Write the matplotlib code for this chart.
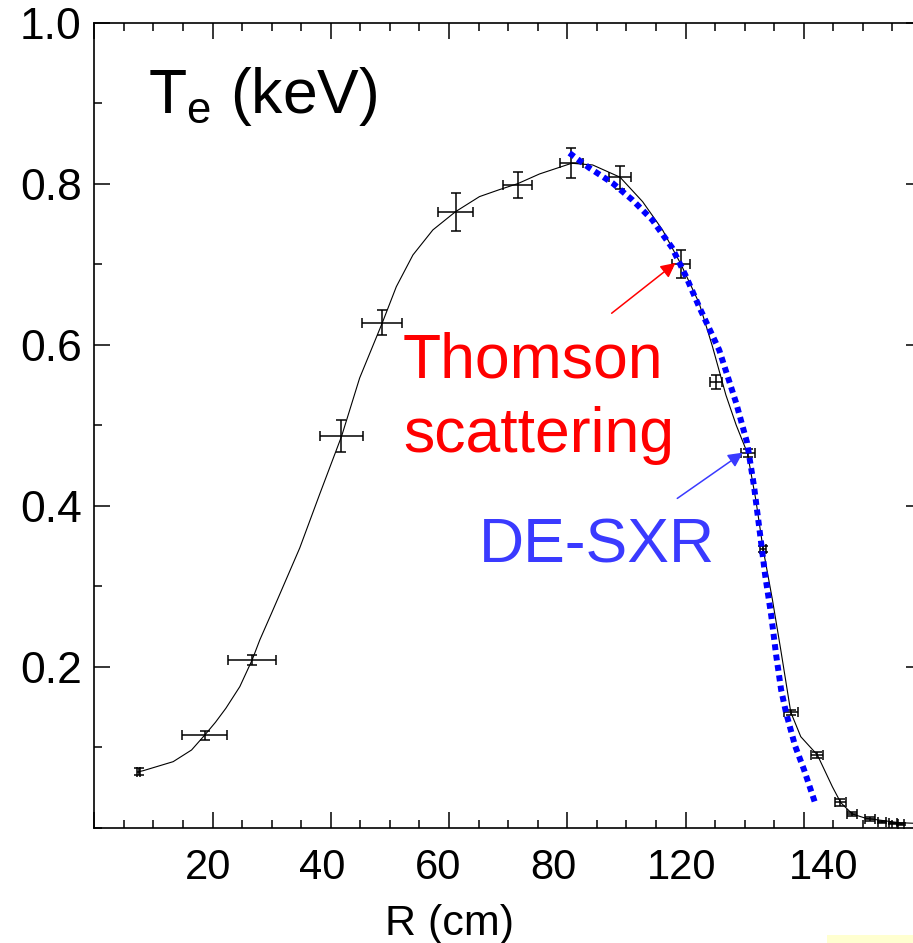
import matplotlib
matplotlib.use("Agg")
import matplotlib.pyplot as plt
from matplotlib.patches import Rectangle
from matplotlib.ticker import MultipleLocator

plt.rcParams['font.family'] = ['Liberation Sans', 'DejaVu Sans']
plt.rcParams['mathtext.fontset'] = 'custom'
plt.rcParams['mathtext.rm'] = 'Liberation Sans'

# Thomson scattering points (axis units as drawn)
ts_r = [7.55, 18.7, 26.7, 41.8, 48.7, 61.1, 71.6, 80.7, 88.9, 99.2, 105.2,
        110.5, 113.1, 117.8, 122.3, 126.2, 128.2, 131.2, 133.2, 135.1, 136.4]
ts_te = [0.0696, 0.1145, 0.2083, 0.4866, 0.6273, 0.765, 0.7983, 0.8253, 0.8079,
         0.6999, 0.5536, 0.4651, 0.3459, 0.1433, 0.0903, 0.0313, 0.0170, 0.0108,
         0.0071, 0.0052, 0.0045]
ts_xerr = [0.25, 3.8, 4.05, 3.7, 3.4, 2.9, 2.4, 1.95, 1.86, 1.5, 1.0,
           1.2, 0.5, 1.2, 1.0, 1.0, 0.85, 0.85, 0.7, 0.7, 0.5]
ts_yerr = [0.004, 0.005, 0.006, 0.02, 0.0155, 0.0236, 0.016, 0.0186, 0.0143,
           0.0174, 0.0087, 0.005, 0.004, 0.003, 0.004, 0.004, 0.0025, 0.002,
           0.0015, 0.0012, 0.0012]

# fitted profile through the Thomson points
fit_r = [7.55, 8.28, 10.54, 13.34, 16.45, 18.70, 20.5, 22.25, 24.61, 26.69, 27.99,
         29.97, 31.37, 34.75, 38.13, 41.84, 44.88, 48.72, 51.08, 53.89, 57.26,
         61.10, 65.15, 68.5, 71.62, 75.29, 80.74, 84.29, 88.92, 92.74, 96.11, 99.22,
         102.31, 104.56, 106.82, 108.56, 110.47, 111.89, 113.13, 114.70, 116.11,
         117.80, 119.49, 122.30, 124.83, 126.25, 128.21, 130.47, 136.10, 138.5]
fit_te = [0.0696, 0.0708, 0.0758, 0.0820, 0.0965, 0.1152, 0.1310, 0.1483, 0.1752,
          0.2083, 0.2332, 0.2663, 0.2900, 0.3475, 0.4145, 0.4866, 0.5586, 0.6273,
          0.6720, 0.7114, 0.7425, 0.7652, 0.7839, 0.7925, 0.8000, 0.8120, 0.8253,
          0.8232, 0.8080, 0.7776, 0.7425, 0.6999, 0.6514, 0.5975, 0.5375, 0.5002,
          0.4651, 0.4071, 0.3458, 0.2829, 0.2207, 0.1434, 0.1130, 0.0903, 0.0509,
          0.0311, 0.0170, 0.0117, 0.0062, 0.0055]

# DE-SXR profile
sxr_r = [80.35, 83.73, 87.62, 91.00, 94.38, 97.75, 100.12, 102.31, 105.69, 108.56,
         110.42, 111.60, 112.62, 113.46, 114.48, 115.32, 116.17, 117.01, 118.53,
         120.05, 121.91]
sxr_te = [0.8381, 0.8195, 0.8009, 0.7798, 0.7549, 0.7201, 0.6841, 0.6468, 0.5934,
          0.5276, 0.4779, 0.4232, 0.3636, 0.3139, 0.2642, 0.2145, 0.1711, 0.1425,
          0.1016, 0.0718, 0.0308]

# tick label texts and where they sit on the axis
xlab_pos = [19.2, 38.5, 58.1, 77.6, 99.4, 123.4]
xlab_txt = ['20', '40', '60', '80', '120', '140']
yticks = [0.2, 0.4, 0.6, 0.8, 1.0]
ylab_txt = ['0.2', '0.4', '0.6', '0.8', '1.0']

fig = plt.figure(figsize=(9.13, 9.43), dpi=100)
ax = fig.add_axes([0.1033, 0.1223, 0.9066, 0.8537])

ax.plot(fit_r, fit_te, color='black', lw=0.8)
ax.errorbar(ts_r, ts_te, xerr=ts_xerr, yerr=ts_yerr, fmt='none', ecolor='black',
            elinewidth=1.1, capsize=3.6, capthick=1.1)
ax.plot(sxr_r, sxr_te, color='#0000ff', lw=4.3, linestyle=(0, (1, 0.75)),
        dash_capstyle='butt')

ax.set_xlim(0, 140)
ax.set_ylim(0, 1.0)

ax.xaxis.set_major_locator(MultipleLocator(20))
ax.xaxis.set_minor_locator(MultipleLocator(5))
ax.set_xticklabels([])
ax.set_yticks(yticks)
ax.set_yticklabels(ylab_txt)
ax.yaxis.set_minor_locator(MultipleLocator(0.1))
ax.tick_params(which='both', direction='in', top=True, right=True, width=1.1)
ax.tick_params(axis='y', labelsize=32, pad=9)
ax.tick_params(which='major', length=11.5)
ax.tick_params(which='minor', length=5.8)
for s in ax.spines.values():
    s.set_linewidth(1.2)

for x, t in zip(xlab_pos, xlab_txt):
    ax.text(x, -0.0258, t, transform=ax.get_xaxis_transform(), ha='center',
            va='top', fontsize=30)
ax.text(60.1, -0.133, 'R (cm)', transform=ax.get_xaxis_transform(), ha='center',
        va='baseline', fontsize=31)

ax.text(9.1, 0.888, r'T$_{\mathregular{e}}$ (keV)', fontsize=45, va='baseline')
ax.text(52.2, 0.5586, 'Thomson', color='#ff0000', fontsize=45, va='baseline')
ax.text(52.2, 0.467, 'scattering', color='#ff0000', fontsize=45, va='baseline')
ax.text(65.0, 0.329, 'DE-SXR', color='#3a3aff', fontsize=45, va='baseline')

ax.annotate('', xy=(98.3, 0.7015), xytext=(87.5, 0.639),
            arrowprops=dict(arrowstyle='-|>', color='#ff0000', lw=1.1,
                            mutation_scale=22, shrinkA=0, shrinkB=0))
ax.annotate('', xy=(109.7, 0.4659), xytext=(98.6, 0.409),
            arrowprops=dict(arrowstyle='-|>', color='#3a3aff', lw=1.1,
                            mutation_scale=22, shrinkA=0, shrinkB=0))

fig.patches.append(Rectangle((827 / 913, 0), 86 / 913, 8 / 943, transform=fig.transFigure,
                             facecolor='#ffffd0', edgecolor='none'))

fig.savefig('out.png', dpi=100)
